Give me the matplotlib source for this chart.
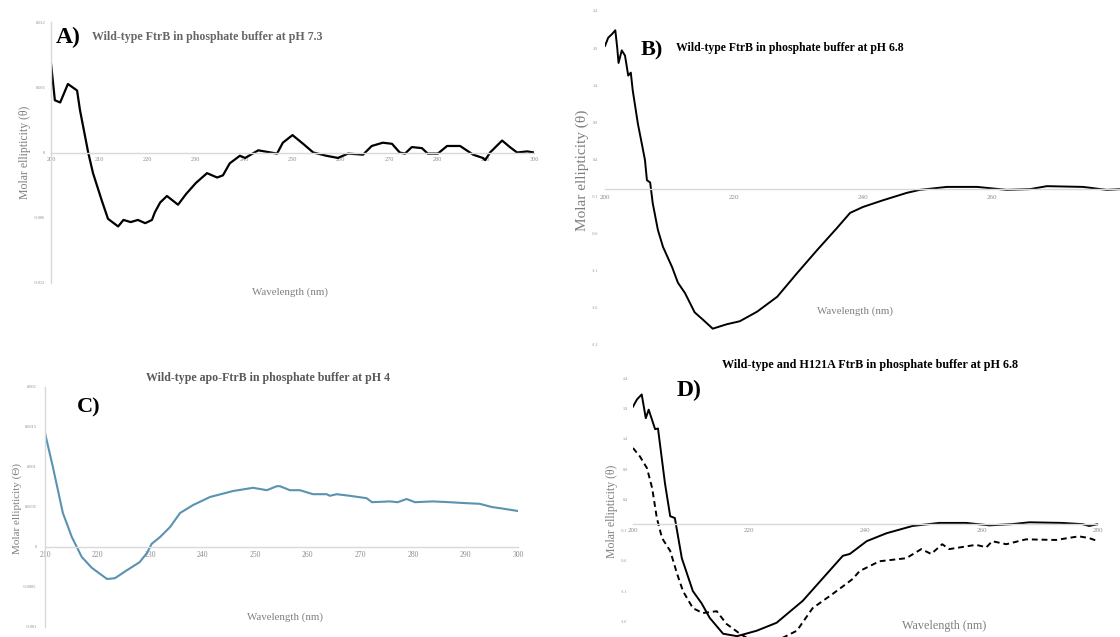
import matplotlib
matplotlib.use("Agg")
import matplotlib.pyplot as plt

plt.rcParams["font.family"] = ["Liberation Serif", "DejaVu Serif"]

W, H = 1120, 637

# Panel A: wild-type FtrB, pH 7.3
wl_a = [200, 200.8, 201.9, 203.5, 205.4, 206, 207.7, 208.7, 210.5, 211.8, 213.9, 215, 216.5,
        218, 219.5, 220.9, 221.5, 222.6, 224, 226.3, 228, 230, 232.3, 234.4, 235.6, 237,
        239.1, 240.2, 242.9, 246.8, 248, 250, 252.2, 254.3, 257, 259.4, 261.5, 264.6,
        266.4, 268.7, 270.6, 272.2, 273.3, 274.7, 276.8, 278, 280.1, 282, 284.7, 287.4,
        289.4, 289.9, 290.9, 293.4, 295, 296.5, 298.6, 300]
ell_a = [0.0082, 0.0048, 0.0046, 0.0063, 0.0057, 0.0039, 0.0, -0.0019, -0.0044, -0.0061,
         -0.0068, -0.0062, -0.0064, -0.0062, -0.0065, -0.0062, -0.0055, -0.0046, -0.004,
         -0.0048, -0.0038, -0.0028, -0.0019, -0.0023, -0.0021, -0.001, -0.0003, -0.0005,
         0.0002, -0.0001, 0.0009, 0.0016, 0.0008, 0.0, -0.0003, -0.0005, -0.0001, -0.0002,
         0.0006, 0.0009, 0.0008, 0.0, -0.0001, 0.0005, 0.0004, -0.0001, -0.0001, 0.0006,
         0.0006, -0.0002, -0.0005, -0.0007, 0.0, 0.0011, 0.0005, 0.0, 0.0001, 0.0]

# Panel B: wild-type FtrB, pH 6.8
wl_b = [200, 200.5, 201.1, 201.6, 201.9, 202.1, 202.6, 203.1, 203.6, 204, 204.3, 205.1,
        205.6, 206.2, 206.5, 207, 207.4, 208.2, 209, 210.4, 211.3, 212.4, 213.9, 215.2,
        216.7, 218.9, 220.9, 223.6, 226.7, 229.8, 232.9, 236, 238, 240, 243.1, 246.8,
        248.8, 253, 257.7, 262.3, 265.9, 268.5, 274.1, 277.8, 280]
ell_b = [1.93, 2.04, 2.09, 2.14, 1.9, 1.7, 1.87, 1.8, 1.53, 1.57, 1.33, 0.88, 0.66, 0.39,
         0.12, 0.09, -0.19, -0.55, -0.78, -1.05, -1.26, -1.4, -1.66, -1.76, -1.88, -1.82,
         -1.78, -1.65, -1.45, -1.13, -0.82, -0.52, -0.32, -0.24, -0.15, -0.05, -0.01, 0.03,
         0.03, -0.01, 0.0, 0.04, 0.03, -0.01, 0.0]

# Panel C: wild-type apo-FtrB, pH 4
wl_c = [210, 211.5, 213.4, 215.1, 217, 218.9, 221.8, 223.3, 225.6, 228, 229.4, 230.3,
        231.9, 233.8, 235.7, 238.2, 241.4, 245.8, 249.6, 252.2, 254.1, 254.7, 256.6, 258.5,
        261, 263.6, 264.2, 265.5, 268, 271.2, 272.2, 275.6, 277.1, 278.8, 280.4, 283.8,
        287, 289.5, 292.7, 295, 297.1, 300]
ell_c = [0.001425, 0.001, 0.000425, 0.000125, -0.000125, -0.00026, -0.0004, -0.00039,
         -0.00029, -0.00019, -0.000075, 0.00004, 0.000125, 0.00025, 0.000425, 0.000525,
         0.000625, 0.0007, 0.00074, 0.00071, 0.00076, 0.00076, 0.00071, 0.00071, 0.00066,
         0.00066, 0.00064, 0.00066, 0.00064, 0.00061, 0.00056, 0.00057, 0.00056, 0.0006,
         0.00056, 0.00057, 0.00056, 0.00055, 0.00054, 0.0005, 0.00048, 0.00045]

# Panel D: wild-type (solid) and H121A (dashed), pH 6.8
wl_d_wt = [200, 200.7, 201.5, 202.2, 202.7, 203.8, 204.3, 205.5, 206.4, 207.2, 208.4, 210.3,
           211.8, 213.2, 215.5, 217.9, 221.3, 224.7, 229.2, 233.3, 236.1, 237.3, 240.2,
           243.6, 248.1, 252.7, 257.3, 261.3, 265.2, 268.2, 273.8, 277.3, 278.5, 280]
ell_d_wt = [1.93, 2.05, 2.13, 1.74, 1.88, 1.56, 1.57, 0.67, 0.13, 0.1, -0.56, -1.1, -1.3,
            -1.54, -1.8, -1.84, -1.75, -1.62, -1.26, -0.82, -0.52, -0.49, -0.28, -0.15,
            -0.03, 0.02, 0.02, -0.02, 0.0, 0.03, 0.02, 0.0, -0.03, 0.0]
wl_d_mut = [200, 201.2, 202.4, 203.3, 204.1, 205, 206.4, 207.6, 208.6, 210.3, 212, 214.4,
            216.1, 218.4, 221, 224, 228.2, 230.9, 234.3, 236.7, 237.8, 239, 242.4, 247,
            249.6, 251.3, 253.2, 254.4, 259, 260.8, 261.8, 264.2, 267.6, 272.8, 276.7,
            278.5, 280]
ell_d_mut = [1.25, 1.11, 0.92, 0.59, 0.1, -0.23, -0.44, -0.82, -1.1, -1.38, -1.46, -1.43,
             -1.64, -1.8, -1.95, -1.95, -1.75, -1.38, -1.15, -0.98, -0.9, -0.77, -0.61,
             -0.56, -0.41, -0.49, -0.33, -0.41, -0.34, -0.38, -0.28, -0.33, -0.25, -0.26,
             -0.2, -0.23, -0.28]

ticks_6 = [-2.1, -1.6, -1.1, -0.6, -0.1, 0.4, 0.9, 1.4, 1.9, 2.4]
labels_6 = ["-2.1", "-1.6", "-1.1", "-0.6", "-0.1", "0.4", "0.9", "1.4", "1.9", "2.4"]

AXIS_GREY = "#d9d9d9"
TICK_GREY = "#8c8c8c"
LABEL_GREY = "#7f7f7f"

fig = plt.figure(figsize=(W / 100, H / 100), dpi=100)


def px_axes(left, right, top, bottom):
    return fig.add_axes([left / W, 1 - bottom / H, (right - left) / W, (bottom - top) / H])


def px_text(x, y, s, **kw):
    fig.text(x / W, 1 - y / H, s, **kw)


def style(ax, xlim, ylim, xticks, yticks, ylabels, xsize, ysize, xpad, ypad, left_line):
    ax.set_xlim(*xlim)
    ax.set_ylim(*ylim)
    ax.set_xticks(xticks)
    ax.set_yticks(yticks)
    ax.set_yticklabels(ylabels)
    for s in ["top", "right"]:
        ax.spines[s].set_visible(False)
    ax.spines["bottom"].set_position(("data", 0))
    ax.spines["bottom"].set_color(AXIS_GREY)
    ax.spines["bottom"].set_linewidth(1.0)
    ax.spines["left"].set_color(AXIS_GREY)
    ax.spines["left"].set_linewidth(1.0)
    ax.spines["left"].set_visible(left_line)
    ax.tick_params(axis="x", length=0, pad=xpad, labelsize=xsize, labelcolor=TICK_GREY)
    ax.tick_params(axis="y", length=0, pad=ypad, labelsize=ysize, labelcolor=TICK_GREY)
    ax.patch.set_alpha(0)


# A
ax_a = px_axes(51, 534, 22, 283)
ax_a.plot(wl_a, ell_a, color="black", lw=1.6)
style(ax_a, (200, 300), (-0.012, 0.012), range(200, 301, 10),
      [-0.012, -0.006, 0, 0.006, 0.012], ["-0.012", "-0.006", "0", "0.006", "0.012"],
      4.5, 3.2, 3, 4, True)
px_text(56, 37, "A)", fontsize=17, fontweight="bold", va="center")
px_text(92, 37, "Wild-type FtrB in phosphate buffer at pH 7.3", fontsize=8.6,
        fontweight="bold", color="#666666", va="center")
px_text(25, 152, "Molar ellipticity (θ)", fontsize=8.5, color=LABEL_GREY,
        rotation=90, ha="center", va="center")
px_text(290, 292, "Wavelength (nm)", fontsize=7.8, color=LABEL_GREY, ha="center", va="center")

# B
ax_b = px_axes(605, 1121, 11, 345)
ax_b.plot(wl_b, ell_b, color="black", lw=1.4)
style(ax_b, (200, 280), (-2.1, 2.4), range(200, 271, 20), ticks_6, labels_6,
      5, 3, 4, 5, False)
px_text(641, 50, "B)", fontsize=16, fontweight="bold", va="center")
px_text(676, 48, "Wild-type FtrB in phosphate buffer at pH 6.8", fontsize=8.5,
        fontweight="bold", color="black", va="center")
px_text(582, 170, "Molar ellipticity (θ)", fontsize=11, color=LABEL_GREY,
        rotation=90, ha="center", va="center")
px_text(855, 311, "Wavelength (nm)", fontsize=7.8, color=LABEL_GREY, ha="center", va="center")

# C
ax_c = px_axes(45, 518, 387, 627)
ax_c.plot(wl_c, ell_c, color="#5a92b2", lw=1.5)
style(ax_c, (210, 300), (-0.001, 0.002), range(210, 301, 10),
      [-0.001, -0.0005, 0, 0.0005, 0.001, 0.0015, 0.002],
      ["-0.001", "-0.0005", "0", "0.0005", "0.001", "0.0015", "0.002"],
      5.5, 3.2, 3, 6, True)
px_text(77, 407, "C)", fontsize=16, fontweight="bold", va="center")
px_text(146, 378, "Wild-type apo-FtrB in phosphate buffer at pH 4", fontsize=8.6,
        fontweight="bold", color="#595959", va="center")
px_text(17, 508, "Molar ellipticity (Θ)", fontsize=8, color=LABEL_GREY,
        rotation=90, ha="center", va="center")
px_text(285, 617, "Wavelength (nm)", fontsize=7.8, color=LABEL_GREY, ha="center", va="center")

# D
ax_d = px_axes(633, 1098, 378, 652)
ax_d.plot(wl_d_wt, ell_d_wt, color="black", lw=1.4)
ax_d.plot(wl_d_mut, ell_d_mut, color="black", lw=1.4, linestyle=(0, (3, 2)))
style(ax_d, (200, 280), (-2.1, 2.4), range(200, 281, 20), ticks_6[1:], labels_6[1:],
      5, 3, 3, 4, False)
px_text(677, 390, "D)", fontsize=17, fontweight="bold", va="center")
px_text(722, 365, "Wild-type and H121A FtrB in phosphate buffer at pH 6.8", fontsize=8.7,
        fontweight="bold", color="black", va="center")
px_text(612, 511, "Molar ellipticity (θ)", fontsize=8.5, color=LABEL_GREY,
        rotation=90, ha="center", va="center")
px_text(944, 626, "Wavelength (nm)", fontsize=8.7, color=LABEL_GREY, ha="center", va="center")

fig.savefig("out.png", dpi=100)
